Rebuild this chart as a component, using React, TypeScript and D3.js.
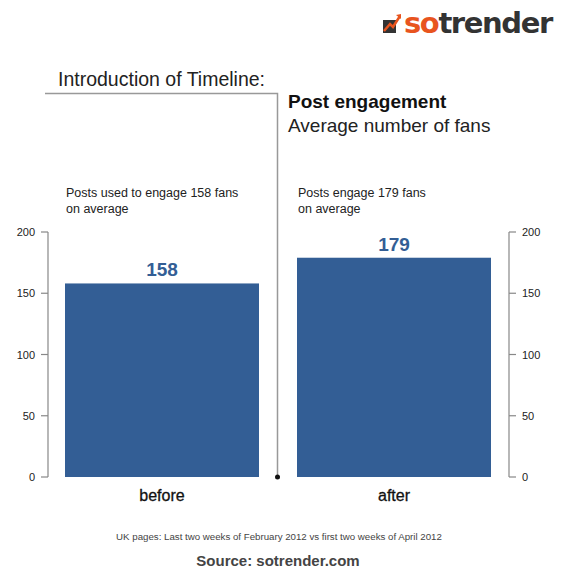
import React from 'react';
import * as d3 from 'd3';

const categories = ['before', 'after'];
const values = [158, 179];
const notes = [
  ['Posts used to engage 158 fans', 'on average'],
  ['Posts engage 179 fans', 'on average'],
];
const yTicks = [0, 50, 100, 150, 200];

const W = 566;
const H = 576;
const barColor = '#335e95';
const font = '"Liberation Sans", Arial, sans-serif';

const App = () => {
  const x = d3.scaleBand<string>()
    .domain(categories)
    .range([65, 491])
    .paddingInner(38 / 232)
    .paddingOuter(0);

  const y = d3.scaleLinear().domain([0, 200]).range([477, 232]);

  const leftAxisX = 48;
  const rightAxisX = 509;
  const dividerX = 277;

  return (
    <svg width={W} height={H} style={{ position: 'absolute', left: 0, top: 0, background: '#fff' }} fontFamily={font}>
      {/* logo */}
      <g>
        <rect x={383} y={20} width={13} height={13} fill="#333" />
        <path d="M384,31 L390,24 L393,27 L400,16" fill="none" stroke="#e8541e" strokeWidth={2.5} />
        <path d="M396,15 L401,14 L401,19 Z" fill="#e8541e" />
        <text x={404} y={33} fontSize={29} fontWeight="bold" fontFamily='"DejaVu Sans", sans-serif' letterSpacing={-1.4}>
          <tspan fill="#e8541e">so</tspan>
          <tspan fill="#333">trender</tspan>
        </text>
      </g>

      {/* headings */}
      <text x={58} y={86} fontSize={19.5} fill="#222">Introduction of Timeline:</text>
      <path d={`M45,93.5 H${dividerX}.5 V${y(0)}`} fill="none" stroke="#999" strokeWidth={1.5} />
      <circle cx={dividerX + 0.5} cy={y(0)} r={2.5} fill="#111" />
      <text x={288} y={108} fontSize={19} fontWeight="bold" fill="#111">Post engagement</text>
      <text x={288} y={132} fontSize={19} fill="#222">Average number of fans</text>

      {/* notes */}
      {categories.map((c, i) => (
        <text key={c} y={197} fontSize={12.5} fill="#222">
          <tspan x={(x(c) ?? 0) + 1}>{notes[i][0]}</tspan>
          <tspan x={(x(c) ?? 0) + 1} dy={16}>{notes[i][1]}</tspan>
        </text>
      ))}

      {/* bars */}
      {categories.map((c, i) => (
        <g key={c}>
          <rect x={x(c)} y={y(values[i])} width={x.bandwidth()} height={y(0) - y(values[i])} fill={barColor} />
          <text x={(x(c) ?? 0) + x.bandwidth() / 2} y={y(values[i]) - 7} textAnchor="middle" fontSize={19} fontWeight="bold" fill={barColor}>
            {values[i]}
          </text>
          <text x={(x(c) ?? 0) + x.bandwidth() / 2} y={501} textAnchor="middle" fontSize={16} fill="#111" stroke="#111" strokeWidth={0.3}>{c}</text>
        </g>
      ))}

      {/* left axis */}
      <line x1={leftAxisX} x2={leftAxisX} y1={y(200)} y2={y(0)} stroke="#888" strokeWidth={1.2} />
      {yTicks.map(t => (
        <g key={'l' + t}>
          <line x1={leftAxisX - 7} x2={leftAxisX} y1={y(t)} y2={y(t)} stroke="#888" strokeWidth={1.2} />
          <text x={leftAxisX - 13} y={y(t) + 4} textAnchor="end" fontSize={11} fill="#222">{t}</text>
        </g>
      ))}

      {/* right axis */}
      <line x1={rightAxisX} x2={rightAxisX} y1={y(200)} y2={y(0)} stroke="#888" strokeWidth={1.2} />
      {yTicks.map(t => (
        <g key={'r' + t}>
          <line x1={rightAxisX} x2={rightAxisX + 7} y1={y(t)} y2={y(t)} stroke="#888" strokeWidth={1.2} />
          <text x={rightAxisX + 13} y={y(t) + 4} textAnchor="start" fontSize={11} fill="#222">{t}</text>
        </g>
      ))}

      {/* footer */}
      <text x={279} y={540} textAnchor="middle" fontSize={9.7} fill="#444">
        UK pages: Last two weeks of February 2012 vs first two weeks of April 2012
      </text>
      <text x={278} y={566} textAnchor="middle" fontSize={15} fontWeight="bold" fill="#444">
        Source: sotrender.com
      </text>
    </svg>
  );
};

export default App;
